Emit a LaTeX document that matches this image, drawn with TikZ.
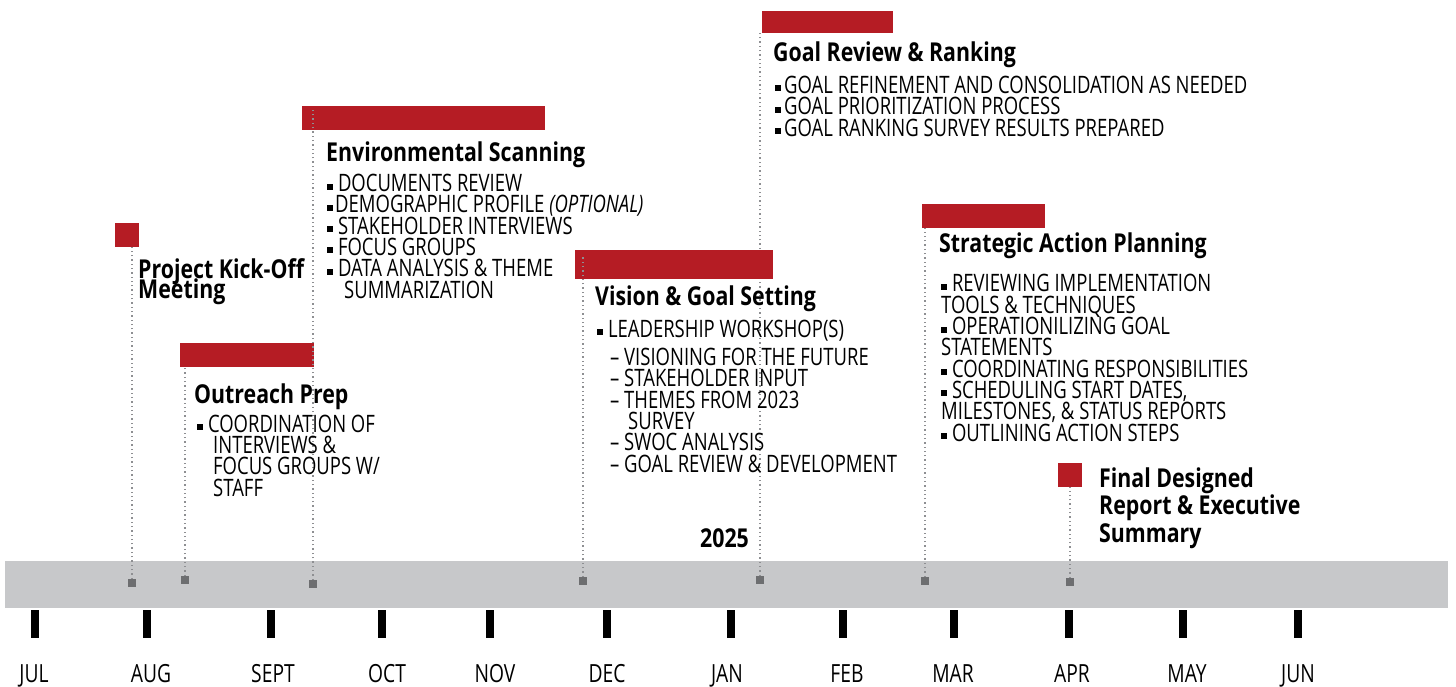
\documentclass[tikz,border=0pt]{standalone}
\usepackage{fontspec}
\setmainfont{Open Sans}
\newfontfamily\cuerpo{Open Sans}[FakeStretch=0.77]
\newfontfamily\titulo{Open Sans}[FakeStretch=0.82]
\definecolor{rojo}{HTML}{B51C24}
\definecolor{banda}{HTML}{C7C8CA}
\definecolor{puntos}{HTML}{8E8F92}
\definecolor{marcador}{HTML}{6D6E70}
\newcommand{\vi}{\rule[2pt]{6pt}{6pt}}
\protected\def\apretar{\lineskiplimit=-100pt\relax}

\begin{document}
\begin{tikzpicture}[x=1pt, y=-1pt,
    barra/.style={fill=rojo, anchor=north west, inner sep=0pt},
    fondo/.style={fill=banda, anchor=north west, inner sep=0pt},
    marca/.style={fill=black, inner sep=0pt, minimum width=8pt, minimum height=28pt},
    punto/.style={fill=marcador, inner sep=0pt, minimum size=8pt},
    guia/.style={draw=puntos, line width=1.3pt, dash pattern=on 1.3pt off 3pt},
    mes/.style={anchor=base, inner sep=0pt, font=\cuerpo\fontsize{25}{25}\selectfont},
    tit/.style={anchor=base west, inner sep=0pt, align=left,
        font=\titulo\bfseries\fontsize{26}{#1}\selectfont\apretar},
    tit/.default=27.5,
    lista/.style={anchor=base west, inner sep=0pt, align=left,
        font=\cuerpo\fontsize{24}{21.3}\selectfont\apretar}]
    \useasboundingbox (0,0) rectangle (1456,686);

    % Eje de tiempo
    \node[fondo, minimum width=1443pt, minimum height=47pt] (eje) at (5,561) {};
    \foreach \x/\lx/\m in {35/34/JUL, 147/151/AUG, 271/273/SEPT, 382/387/OCT,
        490/495/NOV, 607/607/DEC, 731/727/JAN, 843/847/FEB, 954/953/MAR,
        1069/1072/APR, 1183/1187/MAY, 1298/1298/JUN} {
        \node[marca] (t-\m) at (\x,624) {};
        \node[mes] (m-\m) at (\lx,682) {\m};
    }

    % Marcadores sobre el eje
    \node[punto] (p1) at (132,583) {};
    \node[punto] (p2) at (185,580) {};
    \node[punto] (p3) at (313,584) {};
    \node[punto] (p4) at (583,581) {};
    \node[punto] (p5) at (760,580) {};
    \node[punto] (p6) at (925,581) {};
    \node[punto] (p7) at (1070,582) {};

    % Barras rojas
    \node[barra, minimum width=131pt, minimum height=22pt] (b5) at (762,11) {};
    \draw[guia] (p5) -- (p5 |- b5.south);
    \node[barra, minimum width=24pt, minimum height=24pt] (b1) at (115,223) {};
    \node[barra, minimum width=134pt, minimum height=24pt] (b2) at (180,343) {};
    \node[barra, minimum width=243pt, minimum height=24pt] (b3) at (302,106) {};
    \node[barra, minimum width=198pt, minimum height=29pt] (b4) at (575,250) {};
    \node[barra, minimum width=123pt, minimum height=24pt] (b6) at (922,204) {};
    \node[barra, minimum width=24pt, minimum height=24pt] (b7) at (1058,463) {};

    % Lineas punteadas
    \draw[guia] (p1) -- (p1 |- b1.south);
    \draw[guia] (p2) -- (p2 |- b2.south);
    \draw[guia] (p3) -- ([yshift=-3pt]p3 |- b3.north);
    \draw[guia] (p4) -- ([yshift=-5pt]p4 |- b4.north);
    \draw[guia] (p6) -- (p6 |- b6.south);
    \draw[guia] (p7) -- (p7 |- b7.south);

    % Etapas (el ancla base va en la ultima linea)
    \node[tit=20] (kick) at (138,298) {Project Kick-Off\\Meeting};

    \node[tit] (outr) at (194,403) {Outreach Prep};
    \node[lista] (outr-l) at (197,496) {\vi\ COORDINATION OF\\
        \hspace*{16pt}INTERVIEWS \&\\
        \hspace*{16pt}FOCUS GROUPS W/\\
        \hspace*{16pt}STAFF};

    \node[tit] (env) at (326,161) {Environmental Scanning};
    \node[lista] (env-l) at (327,298) {\vi\ DOCUMENTS REVIEW\\
        \vi\hspace{2pt}DEMOGRAPHIC PROFILE \textit{(OPTIONAL)}\\
        \vi\ STAKEHOLDER INTERVIEWS\\
        \vi\ FOCUS GROUPS\\
        \vi\ DATA ANALYSIS \& THEME\\
        \hspace*{17pt}SUMMARIZATION};

    \node[tit] (vis) at (595,305) {Vision \& Goal Setting};
    \node[lista] (vis-l) at (597,472) {\vi\ LEADERSHIP WORKSHOP(S)\\[7pt]
        \hspace*{13pt}– VISIONING FOR THE FUTURE\\
        \hspace*{13pt}– STAKEHOLDER INPUT\\
        \hspace*{13pt}– THEMES FROM 2023\\
        \hspace*{31pt}SURVEY\\
        \hspace*{13pt}– SWOC ANALYSIS\\
        \hspace*{13pt}– GOAL REVIEW \& DEVELOPMENT};

    \node[tit] (gr) at (773,61) {Goal Review \& Ranking};
    \node[lista] (gr-l) at (775,136) {\vi\hspace{3pt}GOAL REFINEMENT AND CONSOLIDATION AS NEEDED\\
        \vi\hspace{3pt}GOAL PRIORITIZATION PROCESS\\
        \vi\hspace{3pt}GOAL RANKING SURVEY RESULTS PREPARED};

    \node[tit] (sap) at (939,252) {Strategic Action Planning};
    \node[lista] (sap-l) at (941,441) {\vi\ REVIEWING IMPLEMENTATION\\
        TOOLS \& TECHNIQUES\\
        \vi\ OPERATIONILIZING GOAL\\
        STATEMENTS\\
        \vi\ COORDINATING RESPONSIBILITIES\\
        \vi\ SCHEDULING START DATES,\\
        MILESTONES, \& STATUS REPORTS\\
        \vi\ OUTLINING ACTION STEPS};

    \node[tit] (fin) at (1099,542) {Final Designed\\Report \& Executive\\Summary};

    \node[tit] (anio) at (700,547) {2025};
\end{tikzpicture}
\end{document}
